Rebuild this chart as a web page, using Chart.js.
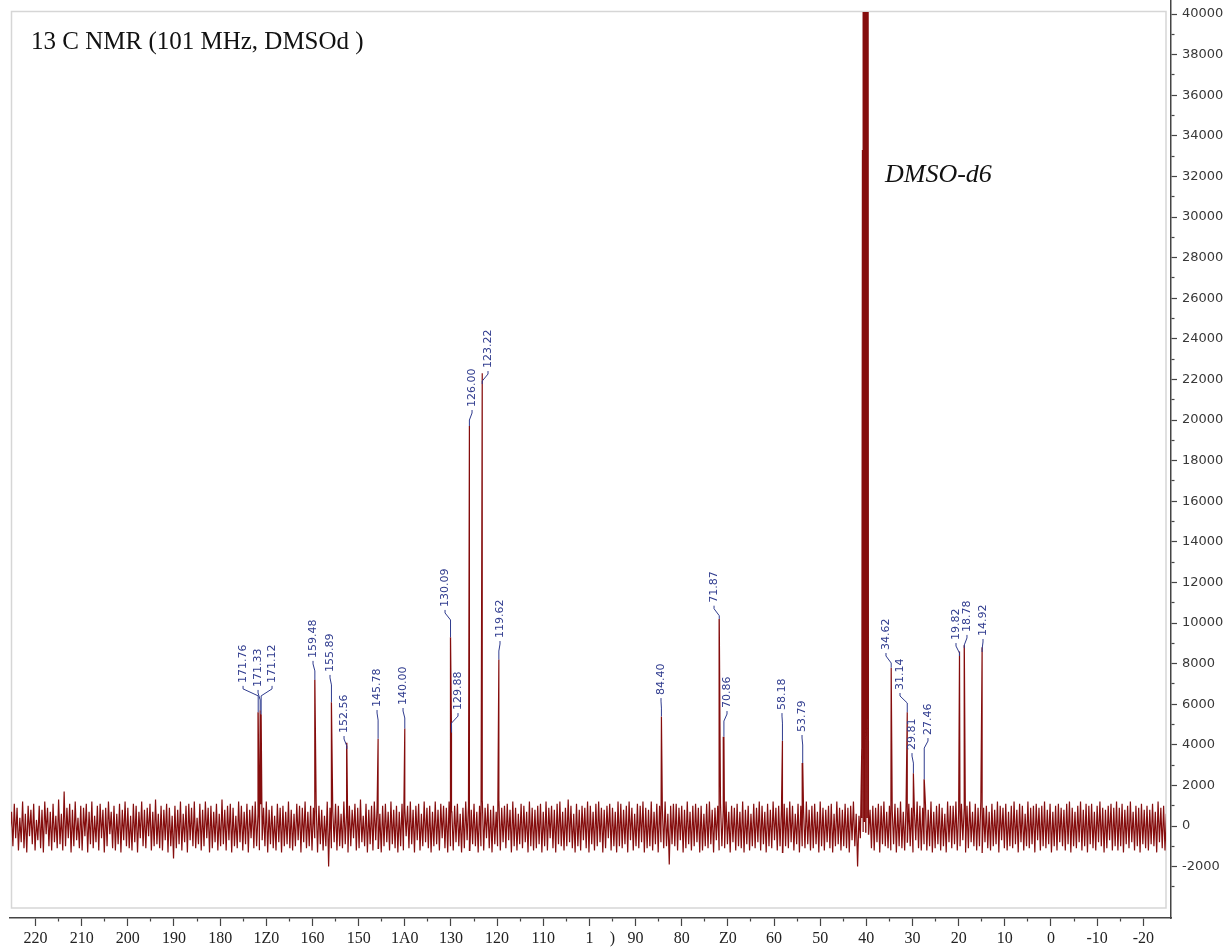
<!DOCTYPE html>
<html><head><meta charset="utf-8">
<script src="https://cdn.jsdelivr.net/npm/chart.js@4.4.0/dist/chart.umd.min.js"></script>
<style>html,body{margin:0;padding:0;background:#fff;}canvas{display:block;}</style>
</head><body>
<canvas id="c" width="1229" height="951"></canvas>
<script>
// ---- data ----
const peakShifts  = [171.76, 171.33, 171.12, 159.48, 155.89, 152.56, 145.78, 140.00, 130.09, 129.88, 126.00, 123.22, 119.62, 84.40, 71.87, 70.86, 58.18, 53.79, 34.62, 31.14, 29.81, 27.46, 19.82, 18.78, 14.92];
const peakHeights = [5600, 5700, 5500, 7200, 6100, 4100, 4300, 4800, 9300, 4600, 19700, 22300, 8200, 5400, 10200, 4400, 4200, 3100, 7800, 5600, 2600, 2300, 8600, 8900, 8800];
const peakLabels  = ["171.76","171.33","171.12","159.48","155.89","152.56","145.78","140.00","130.09","129.88","126.00","123.22","119.62","84.40","71.87","70.86","58.18","53.79","34.62","31.14","29.81","27.46","19.82","18.78","14.92"];
// where each label sits: shift (ppm) of its text column, intensity of its lower end
const labelPpm    = [175.04, 171.79, 168.76, 159.88, 156.20, 153.16, 146.01, 140.38, 131.28, 128.47, 125.43, 121.97, 119.37, 84.49, 73.00, 70.19, 58.28, 53.94, 35.75, 32.71, 30.11, 26.65, 20.58, 18.20, 14.73];
const labelLevel  = [7050, 6850, 7050, 8280, 7590, 4580, 5860, 5960, 10790, 5710, 20640, 22560, 9260, 6450, 11000, 5810, 5710, 4630, 8670, 6700, 3740, 4480, 9160, 9560, 9360];

// solvent multiplet (DMSO-d6), tops clipped by the frame
const solventShifts  = [41.0, 40.85, 40.7, 40.55, 40.45, 40.3, 40.15, 40.0, 39.85, 39.7, 39.55];
const solventHeights = [3800, 33300, 600, 90000, 2000, 90000, 3000, 90000, 2000, 90000, 4200];

const noiseStartPpm = 225.5;
const noiseStepPpm = 0.3;
const noiseValues = [
 -300, 700, -1000, 1100, -600, 900, -1200, 400, -800, 1200, -1100, 600, -1300, 1000, -500, 800, -900, 1100, -1200, 300,
 -700, 1000, -1100, 800, -1300, 1200, -400, 900, -1000, 700, -1200, 1100, -800, 500, -1100, 1300, -900, 600, -1200, 1700,
 -1000, 900, -600, 1100, -1300, 800, -1000, 1200, -700, 400, -1100, 1000, -1200, 900, -500, 1100, -1300, 700, -900, 1200,
 -1100, 500, -800, 1000, -1200, 1100, -600, 800, -1300, 900, -1000, 1200, -400, 700, -1100, 1000, -1200, 600, -900, 1100,
 -1300, 800, -700, 1200, -1000, 900, -1100, 500, -1200, 1100, -800, 1000, -1300, 700, -600, 1200, -1000, 800, -1100, 900,
 -500, 1100, -1200, 700, -1000, 1300, -900, 600, -1100, 1000, -1200, 800, -700, 1100, -1300, 900, -1000, 500, -1600, 1000,
 -1100, 800, -900, 1200, -1200, 600, -800, 1000, -1300, 1100, -700, 900, -1000, 1200, -1100, 400, -900, 1100, -1200, 800,
 -1000, 1200, -600, 900, -1300, 1000, -1100, 700, -800, 1100, -1200, 600, -1000, 1300, -900, 800, -1200, 1000, -700, 1100,
 -1300, 900, -1000, 500, -1100, 1200, -800, 1000, -1200, 700, -900, 1100, -1300, 800, -600, 1000, -1100, 1200, -1000, 600,
 -1200, 1100, -700, 900, -1000, 1200, -1300, 800, -900, 1000, -1100, 500, -1200, 1100, -800, 900, -1300, 1000, -1000, 700,
 -900, 1200, -1100, 800, -1200, 600, -1000, 1100, -700, 1000, -1300, 900, -800, 1200, -1100, 700, -1000, 1000, -1200, 900,
 -600, 1100, -1300, 1000, -900, 800, -1200, 500, -1000, 1200, -2000, 900, -1100, 700, -800, 1100, -1200, 1000, -1000, 600,
 -1100, 1200, -900, 700, -1300, 1000, -1000, 800, -600, 1100, -1200, 900, -1100, 1300, -800, 500, -1000, 1100, -1300, 800,
 -900, 1000, -1200, 1200, -700, 900, -1100, 600, -1300, 1000, -1000, 1100, -800, 700, -1200, 1200, -900, 800, -1100, 1000,
 -1300, 700, -1000, 1100, -1200, 900, -500, 1000, -1100, 1200, -900, 800, -1300, 1000, -700, 1100, -1200, 600, -1000, 1200,
 -800, 900, -1100, 1000, -1300, 700, -1000, 1200, -900, 800, -1200, 1100, -600, 1000, -1100, 900, -1300, 1200, -1000, 700,
 -1200, 1000, -800, 1100, -1000, 600, -1300, 900, -1100, 1200, -700, 1000, -1200, 800, -900, 1100, -1000, 700, -1300, 1000,
 -1000, 1200, -1200, 900, -600, 1100, -1100, 800, -1300, 1000, -900, 700, -1000, 1200, -1200, 900, -800, 1000, -1100, 1100,
 -700, 800, -1300, 1200, -1000, 900, -1200, 600, -900, 1100, -1100, 1000, -800, 700, -1300, 1200, -1000, 900, -1200, 800,
 -1100, 1000, -900, 1100, -1300, 700, -1000, 1200, -1200, 900, -600, 1000, -1100, 800, -1300, 1100, -900, 1200, -1000, 700,
 -1200, 900, -1000, 1300, -800, 1000, -1100, 600, -1300, 1100, -1000, 800, -1200, 1000, -700, 900, -1100, 1200, -1300, 1000,
 -900, 700, -1200, 1100, -1000, 1200, -800, 900, -1300, 800, -1100, 1000, -600, 1100, -1200, 900, -1000, 700, -1300, 1200,
 -1000, 1100, -1100, 800, -900, 1000, -1300, 1200, -700, 900, -1200, 600, -1000, 1100, -1100, 1000, -800, 1200, -1300, 900,
 -1100, 800, -1000, 1200, -1200, 700, -900, 1100, -1300, 1000, -800, 900, -1100, 1200, -1000, 600, -1900, 1000, -900, 1100,
 -1000, 1100, -1200, 900, -700, 1000, -1300, 800, -1100, 1200, -900, 700, -1200, 1000, -1000, 1100, -800, 900, -1300, 1000,
 -1200, 600, -1000, 1100, -1100, 1200, -900, 800, -1300, 900, -700, 1000, -1200, 1100, -1000, 800, -1100, 1200, -900, 700,
 -1300, 1000, -800, 900, -1200, 1100, -1000, 700, -1100, 1200, -1300, 800, -900, 1000, -1200, 600, -1000, 1100, -1100, 900,
 -800, 1200, -1200, 1000, -900, 700, -1300, 1100, -1000, 800, -1100, 1200, -700, 900, -1200, 1000, -1000, 800, -1300, 1100,
 -1000, 900, -1100, 1200, -800, 1000, -1200, 600, -900, 1100, -1300, 1000, -1000, 700, -1100, 1200, -900, 800, -1200, 1000,
 -1100, 1100, -900, 700, -1300, 1200, -1000, 900, -1200, 800, -800, 1000, -1100, 1100, -1300, 600, -1000, 1200, -900, 900,
 -1200, 800, -1000, 1100, -1100, 900, -1300, 1000, -700, 1200, -1000, 600, -2000, 500, -600, 400, -300, 200, -300, 400,
 -400, 800, -1100, 1000, -1200, 900, -800, 1100, -1300, 1000, -900, 1200, -1000, 700, -1100, 1000, -1200, 800, -900, 1100,
 -1300, 900, -1000, 1200, -1100, 700, -1200, 1000, -800, 1100, -1000, 900, -1300, 800, -700, 1200, -1100, 1000, -1200, 900,
 -900, 1100, -1200, 800, -1000, 1200, -1300, 700, -1100, 1000, -900, 1100, -1200, 900, -1000, 600, -1300, 1200, -800, 1000,
 -1100, 1000, -900, 1200, -1200, 800, -1000, 1100, -700, 900, -1300, 1000, -1100, 1200, -800, 700, -1000, 1100, -1200, 900,
 -1000, 1200, -1300, 900, -800, 1000, -1100, 700, -1200, 1100, -1000, 800, -900, 1200, -1300, 1000, -700, 900, -1100, 1100,
 -1200, 700, -1000, 1000, -1100, 1200, -900, 800, -1300, 1100, -800, 1000, -1200, 600, -1000, 1200, -1100, 900, -900, 1000,
 -1300, 1100, -700, 900, -1200, 1000, -1000, 1200, -1100, 800, -900, 1100, -1300, 700, -1000, 1000, -1200, 1100, -800, 900,
 -1000, 800, -1200, 1100, -900, 1200, -1300, 900, -1000, 700, -1100, 1000, -800, 1200, -1200, 800, -1000, 1100, -1300, 1000,
 -900, 1100, -1100, 700, -1200, 1000, -800, 1200, -1000, 900, -1300, 800, -1100, 1000, -700, 1100, -1200, 900, -1000, 1200,
 -1200, 900, -1000, 1100, -1300, 800, -900, 1000, -1100, 1200, -800, 700, -1200, 1000, -1000, 900, -1300, 1100, -900, 800,
 -1100, 1000, -1200, 800, -900, 1100, -1000, 700, -1300, 1200, -800, 900, -1100, 1000, -1200, 600, -900, 1100, -1000, 800
];

const xTickValues = [220, 210, 200, 190, 180, 170, 160, 150, 140, 130, 120, 110, 100, 95, 90, 80, 70, 60, 50, 40, 30, 20, 10, 0, -10, -20];
const xTickLabels = ["220","210","200","190","180","1Z0","160","150","1A0","130","120","110","1",")","90","80","Z0","60","50","40","30","20","10","0","-10","-20"];
const yTickLabels = [-2000, 0, 2000, 4000, 6000, 8000, 10000, 12000, 14000, 16000, 18000, 20000, 22000, 24000, 26000, 28000, 30000, 32000, 34000, 36000, 38000, 40000];

const titleText = "13 C NMR (101 MHz, DMSOd )";
const solventText = "DMSO-d6";

// ---- build the spectrum trace ----
const points = [];
noiseValues.forEach((v, i) => points.push({x: noiseStartPpm - i * noiseStepPpm, y: v}));
peakShifts.forEach((p, i) => points.push({x: p, y: peakHeights[i]}));
solventShifts.forEach((p, i) => points.push({x: p, y: solventHeights[i]}));
points.sort((a, b) => a.x - b.x);

const LABEL_BLUE = '#2f3b8e';

const decor = {
  id: 'decor',
  beforeDatasetsDraw(chart) {
    const ctx = chart.ctx;
    ctx.save();
    ctx.strokeStyle = '#d6d6d6';
    ctx.lineWidth = 1.5;
    ctx.strokeRect(11.5, 11.5, 1166 - 11.5, 908 - 11.5);
    ctx.restore();
  },
  afterDatasetsDraw(chart) {
    const {ctx, scales: {x, y}} = chart;
    ctx.save();
    ctx.font = '11px "DejaVu Sans"';
    ctx.fillStyle = LABEL_BLUE;
    ctx.strokeStyle = LABEL_BLUE;
    ctx.lineWidth = 1;
    peakShifts.forEach((p, i) => {
      const px = x.getPixelForValue(p);
      const top = y.getPixelForValue(peakHeights[i]);
      const lx = x.getPixelForValue(labelPpm[i]);
      const ly = y.getPixelForValue(labelLevel[i]);
      ctx.save();
      ctx.translate(lx, ly);
      ctx.rotate(-Math.PI / 2);
      ctx.textAlign = 'left';
      ctx.textBaseline = 'middle';
      ctx.fillText(peakLabels[i], 0, 0);
      ctx.restore();
      ctx.beginPath();
      ctx.moveTo(lx, ly + 3);
      ctx.lineTo(lx, ly + 6);
      ctx.lineTo(px, ly + 13);
      ctx.lineTo(px, Math.max(top, ly + 16));
      ctx.stroke();
    });
    ctx.fillStyle = '#111';
    ctx.textAlign = 'left';
    ctx.textBaseline = 'alphabetic';
    ctx.font = '25px "Liberation Serif"';
    ctx.fillText(titleText, 31, 49);
    ctx.font = 'italic 26px "Liberation Serif"';
    ctx.fillText(solventText, 885, 182);
    ctx.restore();
  }
};

new Chart(document.getElementById('c'), {
  type: 'line',
  data: {
    datasets: [{
      data: points,
      borderColor: '#850d0d',
      borderWidth: 1.2,
      pointRadius: 0,
      tension: 0,
      clip: {left: -1, top: -12, right: -5, bottom: -10}
    }]
  },
  options: {
    responsive: false,
    animation: false,
    events: [],
    layout: {padding: {left: 10, right: 0, top: 0, bottom: 0}},
    plugins: {legend: {display: false}, tooltip: {enabled: false}},
    scales: {
      x: {
        type: 'linear',
        reverse: true,
        min: -26.0,
        max: 225.53,
        position: 'bottom',
        afterBuildTicks: (s) => {
          const t = [];
          for (let v = -20; v <= 220; v += 5) t.push({value: v});
          s.ticks = t;
        },
        afterFit: (s) => { s.height = 33; s.paddingLeft = 0; s.paddingRight = 0; },
        border: {display: true, color: '#444', width: 1.5},
        grid: {
          drawOnChartArea: false, drawTicks: true, tickLength: 8, tickWidth: 1.2, tickColor: '#444',
          tickBorderDash: (c) => (c.tick && c.tick.value % 10 !== 0) ? [3, 40] : []
        },
        ticks: {
          autoSkip: false, maxRotation: 0, minRotation: 0, padding: 3,
          color: '#222',
          font: {family: 'Liberation Serif', size: 16},
          callback: (v) => { const k = xTickValues.indexOf(v); return k >= 0 ? xTickLabels[k] : ''; }
        }
      },
      y: {
        type: 'linear',
        position: 'right',
        min: -4532,
        max: 40690,
        afterBuildTicks: (s) => {
          const t = [];
          for (let k = 0; k < yTickLabels.length; k++) {
            t.push({value: yTickLabels[k]});
            if (k < yTickLabels.length - 1) t.push({value: (yTickLabels[k] + yTickLabels[k + 1]) / 2});
          }
          t.unshift({value: yTickLabels[0] - 1000});
          s.ticks = t;
        },
        afterFit: (s) => { s.width = 58; s.paddingTop = 0; s.paddingBottom = 0; },
        border: {display: true, color: '#444', width: 1.5},
        grid: {
          drawOnChartArea: false, drawTicks: true, tickLength: 6, tickWidth: 1.2, tickColor: '#444',
          tickBorderDash: (c) => (c.tick && yTickLabels.indexOf(c.tick.value) < 0) ? [3, 40] : []
        },
        ticks: {
          padding: 5,
          color: '#383838',
          font: {family: 'DejaVu Sans', size: 13},
          callback: (v) => yTickLabels.indexOf(v) >= 0 ? String(v) : ''
        }
      }
    }
  },
  plugins: [decor]
});
</script>
</body></html>
